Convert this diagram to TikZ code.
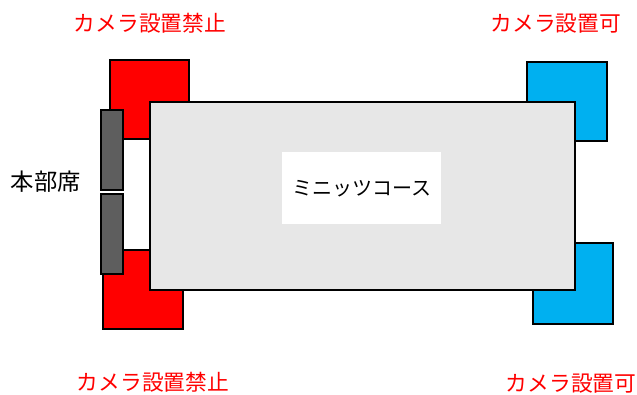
\documentclass[tikz,border=0pt]{standalone}
\usepackage{fontspec}
\setmainfont{Noto Sans CJK JP}
\begin{document}
\begin{tikzpicture}[x=0.75pt,y=-0.75pt,
  box/.style={draw=black,line width=1.1pt,inner sep=0pt,outer sep=0pt,anchor=north west},
  redbox/.style={box,fill=red},
  bluebox/.style={box,fill={rgb,255:red,0;green,176;blue,240}},
  graybar/.style={box,fill={rgb,255:red,94;green,94;blue,94}},
  lbl/.style={font=\fontsize{16.3pt}{19pt}\selectfont,inner sep=0pt},
  redlbl/.style={lbl,text=red}]
\useasboundingbox (0,0) rectangle (637,394);
% camera zones
\node[redbox,minimum width=79*0.75pt,minimum height=79*0.75pt] (tl) at (110,60) {};
\node[redbox,minimum width=80*0.75pt,minimum height=79*0.75pt] (bl) at (103,250) {};
\node[bluebox,minimum width=80*0.75pt,minimum height=79*0.75pt] (tr) at (527,62) {};
\node[bluebox,minimum width=80*0.75pt,minimum height=81*0.75pt] (br) at (533,243) {};
% course
\node[box,fill={rgb,255:red,231;green,231;blue,231},minimum width=425*0.75pt,minimum height=188*0.75pt] (course) at (150,102) {};
\node[fill=white,inner sep=0pt,minimum width=159*0.75pt,minimum height=72*0.75pt,anchor=north west] (inner) at (282,152) {};
\node[lbl,font=\fontsize{15pt}{18pt}\selectfont] (coursename) at (inner.center) {ミニッツコース};
% headquarters
\node[graybar,minimum width=22*0.75pt,minimum height=80*0.75pt] (hq1) at (101,110) {};
\node[graybar,minimum width=22*0.75pt,minimum height=80*0.75pt] (hq2) at (101,194) {};
\node[lbl,font=\fontsize{17.5pt}{20pt}\selectfont] (hqlbl) at (46,182) {本部席};
% labels
\node[redlbl] (ltl) at (150,23) {カメラ設置禁止};
\node[redlbl] (lbl2) at (153,382) {カメラ設置禁止};
\node[redlbl] (ltr) at (556,24) {カメラ設置可};
\node[redlbl] (lbr) at (571,384) {カメラ設置可};
\end{tikzpicture}
\end{document}
